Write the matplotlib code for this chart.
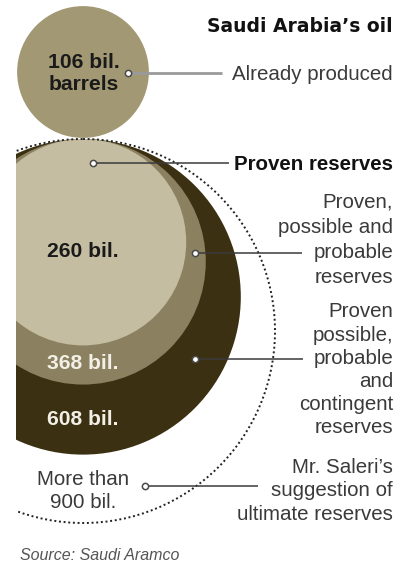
import matplotlib
matplotlib.use("Agg")
import matplotlib.pyplot as plt
from matplotlib.patches import Circle, Rectangle
import numpy as np

# ---- data ----
produced_value = 106          # bil. barrels already produced
reserve_values = [608, 368, 260]   # nested reserve estimates (drawn largest first)
ultimate_value = 900          # Mr. Saleri's suggestion
reserve_colors = ["#3b3011", "#8b8161", "#c5bda1"]
produced_color = "#a29873"

title = "Saudi Arabia\u2019s oil"
produced_label = ["106 bil.", "barrels"]
value_labels = ["608 bil.", "368 bil.", "260 bil."]
ultimate_label = ["More than", "900 bil."]
legend_already = ["Already produced"]
legend_proven = ["Proven reserves"]
legend_ppp = ["Proven,", "possible and", "probable", "reserves"]
legend_cont = ["Proven", "possible,", "probable", "and", "contingent", "reserves"]
legend_saleri = ["Mr. Saleri\u2019s", "suggestion of", "ultimate reserves"]
source = "Source: Saudi Aramco"

# ---- layout ----
W, H = 408, 571
fig = plt.figure(figsize=(W / 100, H / 100), dpi=100)
ax = fig.add_axes([0, 0, 1, 1])
ax.set_xlim(0, W)
ax.set_ylim(H, 0)
ax.axis("off")

k = 6.4            # px per sqrt(bil.)
cx = 83            # shared centre x
top_y = 139        # tangent point of the nested circles
clip = Rectangle((16, 0), W - 16, H, transform=ax.transData)

def r_of(v):
    return k * np.sqrt(v)

# produced circle
rp = r_of(produced_value)
ax.add_patch(Circle((cx, 72), rp, facecolor=produced_color, edgecolor="none", zorder=2))

# nested reserve circles
for v, c in zip(reserve_values, reserve_colors):
    r = r_of(v)
    p = Circle((cx, top_y + r), r, facecolor=c, edgecolor="none", zorder=2)
    ax.add_patch(p)
    p.set_clip_path(clip)

# ultimate dotted circle
ru = r_of(ultimate_value)
pu = Circle((cx, top_y + ru), ru, facecolor="none", edgecolor="#222222",
            linewidth=1.4, linestyle=(0, (1, 1.4)), zorder=3)
ax.add_patch(pu)
pu.set_clip_path(clip)

FONT = "Liberation Sans"
TXT = "#3a3a3a"
FS = 14.8
FSB = 15.2

def lines(texts, x, baselines, **kw):
    for t, y in zip(texts, baselines):
        ax.text(x, y, t, va="baseline", family=FONT, **kw)

XR = 393
# title
ax.text(XR, 32, title, ha="right", va="baseline", family="DejaVu Sans",
        fontweight="bold", fontsize=13.5, color="#111111")

# circle labels
lines(produced_label, cx + 1, [68, 90], ha="center", fontweight="bold", fontsize=FSB, color="#1a1a1a", zorder=5)
lines([value_labels[2]], cx, [257], ha="center", fontweight="bold", fontsize=FSB, color="#1a1a1a", zorder=5)
lines([value_labels[1]], cx, [369], ha="center", fontweight="bold", fontsize=FSB, color="#f2efe6", zorder=5)
lines([value_labels[0]], cx, [425], ha="center", fontweight="bold", fontsize=FSB, color="#f2efe6", zorder=5)
lines(ultimate_label, cx, [485, 508], ha="center", fontsize=FS, color=TXT, zorder=5)

# legends (right side)
lines(legend_already, XR, [80], ha="right", fontsize=FS, color=TXT)
lines(legend_proven, XR, [170], ha="right", fontweight="bold", fontsize=FS, color="#111111")
lines(legend_ppp, XR, [208, 233, 258, 283], ha="right", fontsize=FS, color=TXT)
lines(legend_cont, XR, [317, 341, 364, 387, 410, 433], ha="right", fontsize=FS, color=TXT)
lines(legend_saleri, XR, [473, 496, 520], ha="right", fontsize=FS, color=TXT)

# leader lines with hollow markers
leaders = [
    ((128, 222), 73, "#9a9a9a", 2.0),
    ((93, 229), 163, "#3a3a3a", 1.1),
    ((195, 302), 253, "#3a3a3a", 1.1),
    ((195, 303), 359, "#3a3a3a", 1.1),
    ((145, 258), 486, "#3a3a3a", 1.1),
]
for (x0, x1), y, col, lw in leaders:
    ax.plot([x0, x1], [y, y], color=col, lw=lw, solid_capstyle="butt", zorder=4)
    ax.plot([x0], [y], marker="o", ms=4.5, mfc="white", mec="#4a4a4a", mew=1.1, zorder=6)

# source
ax.text(20, 560, source, ha="left", va="baseline", family=FONT, style="italic",
        fontsize=11.5, color="#555555")

fig.savefig("out.png", dpi=100)
